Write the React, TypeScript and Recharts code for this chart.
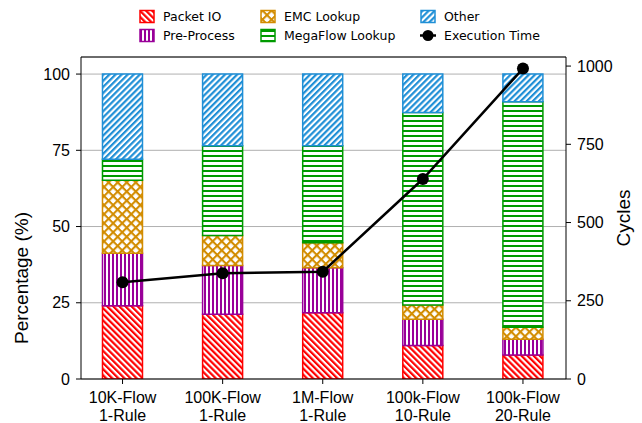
import React from "react";
import {
  ComposedChart,
  Bar,
  Line,
  XAxis,
  YAxis,
  CartesianGrid,
  ReferenceLine,
} from "recharts";

const categories = [
  ["10K-Flow", "1-Rule"],
  ["100K-Flow", "1-Rule"],
  ["1M-Flow", "1-Rule"],
  ["100k-Flow", "10-Rule"],
  ["100k-Flow", "20-Rule"],
];
const packetIO = [24.0, 21.2, 21.7, 11.0, 7.9];
const preProcess = [17.2, 16.0, 14.8, 8.6, 5.1];
const emcLookup = [24.0, 9.9, 8.2, 4.7, 4.0];
const megaFlowLookup = [6.9, 29.4, 31.8, 63.1, 73.9];
const other = [27.9, 23.5, 23.5, 12.6, 9.1];
const executionTime = [309, 338, 343, 639, 992];

const leftTicks = [0, 25, 50, 75, 100];
const rightTicks = [0, 250, 500, 750, 1000];

const data = categories.map((c, i) => ({
  idx: i,
  packetIO: packetIO[i],
  preProcess: preProcess[i],
  emcLookup: emcLookup[i],
  megaFlowLookup: megaFlowLookup[i],
  other: other[i],
  time: executionTime[i],
}));

const RED = "#ff0000";
const PURPLE = "#990099";
const ORANGE = "#d28c00";
const GREEN = "#009a00";
const BLUE = "#1f8fd6";

const FONT = "'Liberation Sans', Arial, sans-serif";

const Patterns = () => (
  <svg width={0} height={0} style={{ position: "absolute" }}>
    <defs>
      <pattern id="pRed" width="4.3" height="4.3" patternUnits="userSpaceOnUse" patternTransform="rotate(-45)">
        <rect width="4.3" height="4.3" fill="#fff" />
        <line x1="1.1" y1="0" x2="1.1" y2="4.3" stroke={RED} strokeWidth="2.2" />
      </pattern>
      <pattern id="pBlue" width="4.3" height="4.3" patternUnits="userSpaceOnUse" patternTransform="rotate(45)">
        <rect width="4.3" height="4.3" fill="#fff" />
        <line x1="1.1" y1="0" x2="1.1" y2="4.3" stroke={BLUE} strokeWidth="2.2" />
      </pattern>
      <pattern id="pPurple" width="4" height="4" patternUnits="userSpaceOnUse">
        <rect width="4" height="4" fill="#fff" />
        <line x1="1" y1="0" x2="1" y2="4" stroke={PURPLE} strokeWidth="2" />
      </pattern>
      <pattern id="pGreen" width="5" height="5" patternUnits="userSpaceOnUse">
        <rect width="5" height="5" fill="#fff" />
        <line x1="0" y1="1" x2="5" y2="1" stroke={GREEN} strokeWidth="2" />
      </pattern>
      <pattern id="pOrange" width="6.4" height="6.4" patternUnits="userSpaceOnUse" patternTransform="rotate(45)">
        <rect width="6.4" height="6.4" fill="#fff" />
        <line x1="1" y1="0" x2="1" y2="6.4" stroke={ORANGE} strokeWidth="2.2" />
        <line x1="0" y1="1" x2="6.4" y2="1" stroke={ORANGE} strokeWidth="2.2" />
      </pattern>
    </defs>
  </svg>
);

const XTick = (props: any) => {
  const { x, y, payload } = props;
  const lines = categories[payload.value] || ["", ""];
  return (
    <text x={x} textAnchor="middle" fontFamily={FONT} fontSize={16} fill="#000">
      <tspan x={x} y={y + 17}>{lines[0]}</tspan>
      <tspan x={x} y={y + 35}>{lines[1]}</tspan>
    </text>
  );
};

const legendItems = [
  { label: "Packet IO", fill: "url(#pRed)", stroke: RED, col: 0, row: 0 },
  { label: "Pre-Process", fill: "url(#pPurple)", stroke: PURPLE, col: 0, row: 1 },
  { label: "EMC Lookup", fill: "url(#pOrange)", stroke: ORANGE, col: 1, row: 0 },
  { label: "MegaFlow Lookup", fill: "url(#pGreen)", stroke: GREEN, col: 1, row: 1 },
  { label: "Other", fill: "url(#pBlue)", stroke: BLUE, col: 2, row: 0 },
];
const colX = [140, 261, 421];
const rowY = [10.5, 29.5];

const LegendBox = () => (
  <svg width={642} height={50} style={{ position: "absolute", left: 0, top: 0 }}>
    {legendItems.map((it) => (
      <g key={it.label}>
        <rect
          x={colX[it.col]}
          y={rowY[it.row]}
          width={14}
          height={12}
          fill={it.fill}
          stroke={it.stroke}
          strokeWidth={1.5}
        />
        <text
          x={colX[it.col] + 23}
          y={rowY[it.row] + 10.5}
          fontFamily="'DejaVu Sans', sans-serif"
          fontSize={12.5}
          fill="#000"
        >
          {it.label}
        </text>
      </g>
    ))}
    <line x1={colX[2] - 1} y1={rowY[1] + 6} x2={colX[2] + 15} y2={rowY[1] + 6} stroke="#000" strokeWidth={2.5} />
    <circle cx={colX[2] + 7} cy={rowY[1] + 6} r={5.5} fill="#000" />
    <text
      x={colX[2] + 23}
      y={rowY[1] + 10.5}
      fontFamily="'DejaVu Sans', sans-serif"
      fontSize={12.5}
      fill="#000"
    >
      Execution Time
    </text>
  </svg>
);

export default function App() {
  const barCommon = {
    yAxisId: "left",
    stackId: "s",
    barSize: 40,
    strokeWidth: 1.5,
    isAnimationActive: false,
  };
  return (
    <div style={{ position: "absolute", left: 0, top: 0, width: 642, height: 423, background: "#fff" }}>
      <Patterns />
      <ComposedChart
        width={642}
        height={423}
        data={data}
        margin={{ top: 57, right: 16, bottom: 4, left: 21 }}
      >
        <CartesianGrid yAxisId="left" vertical={false} stroke="#b0b0b0" strokeWidth={1} />
        <XAxis
          dataKey="idx"
          type="number"
          domain={[-0.415, 4.43]}
          allowDataOverflow
          ticks={[0, 1, 2, 3, 4]}
          interval={0}
          tick={<XTick />}
          tickSize={5}
          height={40}
          stroke="#000"
          tickLine={{ stroke: "#000" }}
          axisLine={{ stroke: "#000" }}
        />
        <YAxis
          yAxisId="left"
          domain={[0, 105.6]}
          allowDataOverflow
          ticks={leftTicks}
          width={60}
          tickSize={5}
          tickMargin={6}
          stroke="#000"
          tick={{ fill: "#000", fontSize: 16, fontFamily: FONT }}
          label={{
            value: "Percentage (%)",
            angle: -90,
            position: "insideLeft",
            dx: -5,
            dy: 60,
            style: { fontSize: 19, fontFamily: FONT, fill: "#000", textAnchor: "middle" },
          }}
        />
        <YAxis
          yAxisId="right"
          orientation="right"
          domain={[0, 1029]}
          allowDataOverflow
          ticks={rightTicks}
          width={60}
          tickSize={5}
          tickMargin={6}
          stroke="#000"
          tick={{ fill: "#000", fontSize: 16, fontFamily: FONT, textAnchor: "start" }}
          label={{
            value: "Cycles",
            angle: -90,
            position: "insideRight",
            dx: 2,
            dy: 0,
            style: { fontSize: 19, fontFamily: FONT, fill: "#000", textAnchor: "middle" },
          }}
        />
        <ReferenceLine yAxisId="left" y={105.6} stroke="#000" strokeWidth={1} ifOverflow="visible" />
        <Bar {...barCommon} dataKey="packetIO" fill="url(#pRed)" stroke={RED} />
        <Bar {...barCommon} dataKey="preProcess" fill="url(#pPurple)" stroke={PURPLE} />
        <Bar {...barCommon} dataKey="emcLookup" fill="url(#pOrange)" stroke={ORANGE} />
        <Bar {...barCommon} dataKey="megaFlowLookup" fill="url(#pGreen)" stroke={GREEN} />
        <Bar {...barCommon} dataKey="other" fill="url(#pBlue)" stroke={BLUE} />
        <Line
          yAxisId="right"
          dataKey="time"
          stroke="#000"
          strokeWidth={2.5}
          dot={{ r: 6, fill: "#000", stroke: "#000", strokeWidth: 0 }}
          activeDot={false}
          isAnimationActive={false}
        />
      </ComposedChart>
      <LegendBox />
    </div>
  );
}
